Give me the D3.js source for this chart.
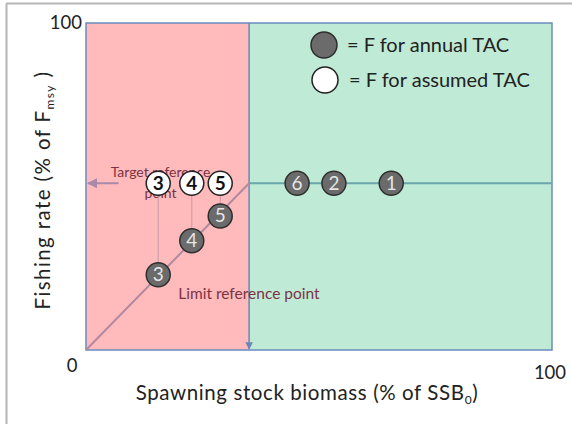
<!DOCTYPE html>
<html>
<head>
<meta charset="utf-8">
<script src="https://cdn.jsdelivr.net/npm/d3@7"></script>
<style>
  body { margin: 0; background: #fff; }
  svg { font-family: Lato, "Open Sans", sans-serif; }
</style>
</head>
<body>
<svg id="chart" width="572" height="424"></svg>
<script>
// reference points (% values)
const limitRef = 35;
const targetF = 51;

// grey circles: F for annual TAC
const annualLabels = ["1", "2", "3", "4", "5", "6"];
const annualX = [65.5, 53.2, 15.5, 22.7, 28.8, 45.3];
const annualY = [51, 51, 23, 33.4, 41, 51];

// white circles: F for assumed TAC
const assumedLabels = ["3", "4", "5"];
const assumedX = [15.5, 22.7, 28.8];
const assumedY = [51, 51, 51];

const svg = d3.select("#chart");
const x = d3.scaleLinear().domain([0, 100]).range([86, 552]);
const y = d3.scaleLinear().domain([0, 100]).range([350, 23]);

// outer frame (left and top only)
svg.append("line").attr("x1", 6.5).attr("y1", 3.5).attr("x2", 6.5).attr("y2", 424)
    .attr("stroke", "#b5b5b5").attr("stroke-width", 2);
svg.append("line").attr("x1", 6).attr("y1", 3.5).attr("x2", 572).attr("y2", 3.5)
    .attr("stroke", "#b5b5b5").attr("stroke-width", 2);

const defs = svg.append("defs");
defs.append("marker").attr("id", "arrowBlue").attr("viewBox", "0 0 10 10")
    .attr("refX", 9).attr("refY", 5).attr("markerWidth", 5).attr("markerHeight", 5)
    .attr("orient", "auto")
    .append("path").attr("d", "M0,0 L10,5 L0,10 z").attr("fill", "#6a86b8");
defs.append("marker").attr("id", "arrowMauve").attr("viewBox", "0 0 10 10")
    .attr("refX", 9).attr("refY", 5).attr("markerWidth", 5).attr("markerHeight", 5)
    .attr("orient", "auto")
    .append("path").attr("d", "M0,0 L10,5 L0,10 z").attr("fill", "#a98aa8");

// zones
svg.append("rect").attr("x", x(0)).attr("y", y(100))
    .attr("width", x(limitRef) - x(0)).attr("height", y(0) - y(100))
    .attr("fill", "#ffbabb");
svg.append("rect").attr("x", x(limitRef)).attr("y", y(100))
    .attr("width", x(100) - x(limitRef)).attr("height", y(0) - y(100))
    .attr("fill", "#bfead5");
svg.append("rect").attr("x", x(0)).attr("y", y(100))
    .attr("width", x(100) - x(0)).attr("height", y(0) - y(100))
    .attr("fill", "none").attr("stroke", "#6a8bbf").attr("stroke-width", 1.5);

// limit reference vertical with arrow
svg.append("line").attr("x1", x(limitRef)).attr("y1", y(100))
    .attr("x2", x(limitRef)).attr("y2", y(0) - 1)
    .attr("stroke", "#6a86b8").attr("stroke-width", 1.5)
    .attr("marker-end", "url(#arrowBlue)");

// harvest control rule
svg.append("line").attr("x1", x(0)).attr("y1", y(0))
    .attr("x2", x(limitRef)).attr("y2", y(targetF))
    .attr("stroke", "#b08aa0").attr("stroke-width", 2);
svg.append("line").attr("x1", x(limitRef)).attr("y1", y(targetF))
    .attr("x2", x(100)).attr("y2", y(targetF))
    .attr("stroke", "#6aa6ab").attr("stroke-width", 2);

// target arrow
svg.append("line").attr("x1", x(7)).attr("y1", y(targetF))
    .attr("x2", x(0) + 2).attr("y2", y(targetF))
    .attr("stroke", "#a98aa8").attr("stroke-width", 2)
    .attr("marker-end", "url(#arrowMauve)");

// annotation texts (partly hidden behind the circles, as in the original)
svg.append("text").attr("x", x(16)).attr("y", y(targetF) - 6)
    .attr("text-anchor", "middle").attr("font-size", 14).attr("fill", "#7b3344")
    .text("Target reference");
svg.append("text").attr("x", x(16)).attr("y", y(targetF) + 15)
    .attr("text-anchor", "middle").attr("font-size", 14).attr("fill", "#7b3344")
    .text("point");
svg.append("text").attr("x", x(19.8)).attr("y", y(15.5))
    .attr("font-size", 15.5).attr("fill", "#7b3344")
    .text("Limit reference point");

// connectors between assumed and annual F
const links = assumedX.map((v, i) => ({ x: v, y1: assumedY[i], y2: annualY[annualLabels.indexOf(assumedLabels[i])] }));
svg.selectAll(".link").data(links).enter().append("line")
    .attr("x1", (d) => x(d.x)).attr("x2", (d) => x(d.x))
    .attr("y1", (d) => y(d.y1)).attr("y2", (d) => y(d.y2))
    .attr("stroke", "#c89aa4").attr("stroke-width", 1);

// grey circles
const annual = svg.selectAll(".annual")
    .data(annualLabels.map((l, i) => ({ l, x: annualX[i], y: annualY[i] })))
    .enter().append("g")
    .attr("transform", (d) => `translate(${x(d.x)},${y(d.y)})`);
annual.append("circle").attr("r", 12)
    .attr("fill", "#6b6b6b").attr("stroke", "#2e2e2e").attr("stroke-width", 1.5);
annual.append("text").attr("y", 6.5).attr("text-anchor", "middle")
    .attr("font-size", 19).attr("fill", "#e6e6e6").text((d) => d.l);

// white circles
const assumed = svg.selectAll(".assumed")
    .data(assumedLabels.map((l, i) => ({ l, x: assumedX[i], y: assumedY[i] })))
    .enter().append("g")
    .attr("transform", (d) => `translate(${x(d.x)},${y(d.y)})`);
assumed.append("circle").attr("r", 12)
    .attr("fill", "#fff").attr("stroke", "#222").attr("stroke-width", 1.5);
assumed.append("text").attr("y", 6.5).attr("text-anchor", "middle")
    .attr("font-size", 19).attr("font-weight", "bold").attr("fill", "#111").text((d) => d.l);

// legend
const legend = svg.append("g");
legend.append("circle").attr("cx", 324).attr("cy", 45).attr("r", 13)
    .attr("fill", "#6b6b6b").attr("stroke", "#2e2e2e").attr("stroke-width", 1.5);
legend.append("text").attr("x", 347).attr("y", 52).attr("font-size", 20)
    .attr("fill", "#222").text("= F for annual TAC");
legend.append("circle").attr("cx", 325).attr("cy", 80).attr("r", 13)
    .attr("fill", "#fff").attr("stroke", "#222").attr("stroke-width", 1.5);
legend.append("text").attr("x", 349).attr("y", 87).attr("font-size", 20)
    .attr("fill", "#222").text("= F for assumed TAC");

// axis tick labels
svg.append("text").attr("x", x(0) - 4).attr("y", y(100) + 6).attr("text-anchor", "end")
    .attr("font-size", 18.5).attr("fill", "#222").text("100");
svg.append("text").attr("x", x(0) - 14).attr("y", 372).attr("text-anchor", "middle")
    .attr("font-size", 18.5).attr("fill", "#222").text("0");
svg.append("text").attr("x", x(100) - 2).attr("y", 379).attr("text-anchor", "middle")
    .attr("font-size", 18.5).attr("fill", "#222").text("100");

// axis titles
const xt = svg.append("text").attr("x", 307).attr("y", 400).attr("text-anchor", "middle")
    .attr("font-size", 20.5).attr("letter-spacing", 0.6).attr("fill", "#222");
xt.append("tspan").text("Spawning stock biomass (% of SSB");
xt.append("tspan").attr("font-size", 12).attr("dy", 4).text("0");
xt.append("tspan").attr("dy", -4).text(")");

const yt = svg.append("text").attr("transform", "translate(50,190) rotate(-90)")
    .attr("text-anchor", "middle").attr("font-size", 20.5).attr("letter-spacing", 1.4)
    .attr("fill", "#222");
yt.append("tspan").text("Fishing rate (% of F");
yt.append("tspan").attr("font-size", 12).attr("dy", 4).text("msy");
yt.append("tspan").attr("dy", -4).text(" )");
</script>
</body>
</html>
